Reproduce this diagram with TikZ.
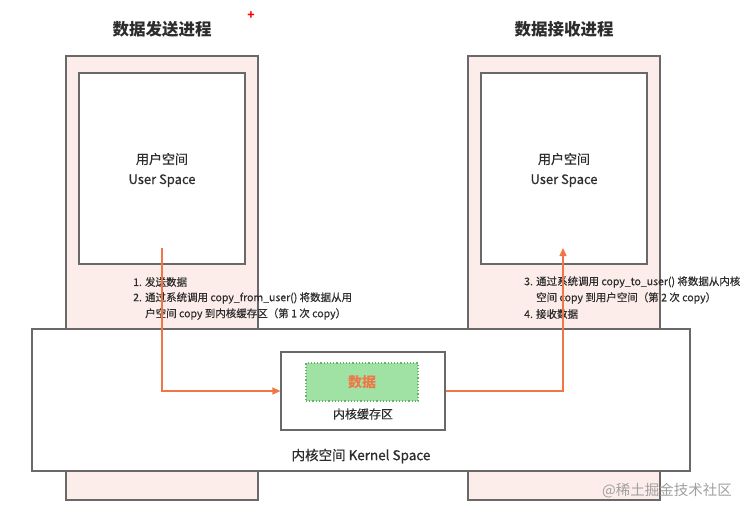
\documentclass[tikz,border=0pt]{standalone}
\usepackage{fontspec}
\setmainfont{Noto Sans CJK SC}
\usetikzlibrary{arrows.meta}
\definecolor{pinkbg}{RGB}{253,237,234}
\definecolor{edgegray}{RGB}{105,105,105}
\definecolor{arroworange}{RGB}{240,118,70}
\definecolor{greenfill}{RGB}{160,226,164}
\definecolor{greenedge}{RGB}{100,180,100}
\definecolor{textdark}{RGB}{45,45,45}
\definecolor{wmgray}{RGB}{160,160,160}
\tikzset{
  procbox/.style={draw=edgegray, line width=1.2pt, fill=pinkbg, inner sep=0pt},
  whitebox/.style={draw=edgegray, line width=1.2pt, fill=white, inner sep=0pt},
  databox/.style={draw=greenedge, line width=1.2pt, dotted, fill=greenfill, inner sep=0pt},
  flow/.style={draw=arroworange, line width=1.3pt, -{Triangle[length=8pt,width=7pt]}},
  title/.style={font=\fontsize{16.5}{20}\selectfont\bfseries, text=textdark},
  usertxt/.style={font=\fontsize{13}{20}\selectfont\addfontfeature{FakeBold=0.6}, text=textdark, align=center},
  steptxt/.style={font=\fontsize{10.5}{14}\selectfont\addfontfeature{FakeBold=0.4}, text=textdark, anchor=west, inner sep=0pt},
}
\begin{document}
\begin{tikzpicture}[x=1pt,y=-1pt]
\useasboundingbox (0,0) rectangle (754,514);
% process columns
\node[procbox, minimum width=192pt, minimum height=444pt] (lproc) at (162,278) {};
\node[procbox, minimum width=192pt, minimum height=444pt] (rproc) at (564,278) {};
\node[whitebox, minimum width=166pt, minimum height=191pt] (luser) at (162,168.5) {};
\node[whitebox, minimum width=166pt, minimum height=191pt] (ruser) at (564,168.5) {};
\node[usertxt] (lusertxt) at (162,170) {用户空间\\User Space};
\node[usertxt] (rusertxt) at (564,170) {用户空间\\User Space};
% titles
\node[title] (ltitle) at (162,29) {数据发送进程};
\node[title] (rtitle) at (564,29) {数据接收进程};
\node[text=red, font=\fontsize{12}{12}\selectfont\bfseries] (plus) at (251,16) {+};
% kernel
\node[whitebox, minimum width=658pt, minimum height=142pt] (kernel) at (361,400) {};
\node[whitebox, minimum width=164pt, minimum height=78pt] (buf) at (363,391) {};
\node[databox, minimum width=112pt, minimum height=38pt] (data) at (362,382) {};
\node[text=arroworange, font=\fontsize{14}{16}\selectfont\bfseries] (datatxt) at (362,382) {数据};
\node[text=textdark, font=\fontsize{12}{14}\selectfont\addfontfeature{FakeBold=0.4}] (buftxt) at (363,414) {内核缓存区};
\node[text=textdark, font=\fontsize{13.5}{16}\selectfont\addfontfeature{FakeBold=0.6}] (kerneltxt) at (361,456) {内核空间 Kernel Space};
% step texts
\node[steptxt] (s1) at (133,282) {1. 发送数据};
\node[steptxt] (s2) at (133,298) {2. 通过系统调用 copy\_from\_user() 将数据从用};
\node[steptxt] (s2b) at (145,314) {户空间 copy 到内核缓存区（第 1 次 copy）};
\node[steptxt] (s3) at (524,282) {3. 通过系统调用 copy\_to\_user() 将数据从内核};
\node[steptxt] (s3b) at (536,298) {空间 copy 到用户空间（第 2 次 copy）};
\node[steptxt] (s4) at (524,314) {4. 接收数据};
% arrows
\coordinate (lstart) at (162,248);
\coordinate (rend) at (563,248);
\draw[flow] (lstart) |- (buf.west);
\draw[flow] (buf.east) -| (rend);
% watermark
\node[text=wmgray, font=\fontsize{14.5}{16}\selectfont] (wm) at (667,491) {@稀土掘金技术社区};
\end{tikzpicture}
\end{document}
